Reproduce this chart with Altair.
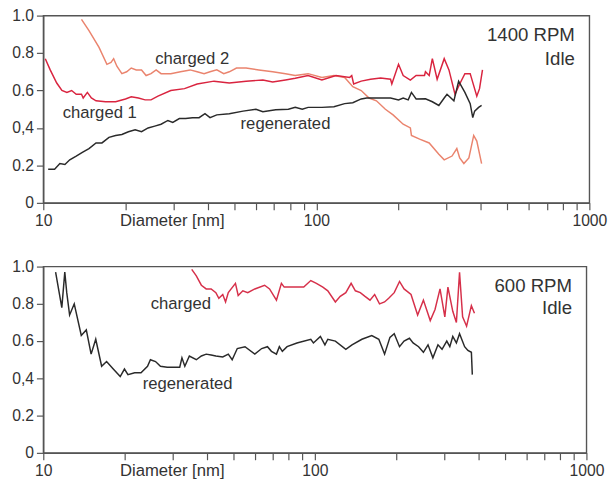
import altair as alt
import pandas as pd

FONT = "Liberation Sans"
TXT = "#333333"

# ---------------- data (diameter in nm, fraction) ----------------
# Top panel: 1400 RPM Idle
top_c2_d = [13.8, 14.7, 16.0, 17.1, 17.7, 18.1, 18.6, 19.4, 20.2, 21.0, 21.9, 22.9, 23.8, 24.8,
            25.9, 27.0, 29.3, 31.8, 34.5, 36.6, 38.8, 40.8, 43.2, 45.8, 48.0, 51, 55.3, 61.6,
            69.2, 77.1, 83.7, 93.3, 104.8, 116, 127, 136, 146, 156, 166, 179, 191, 208, 221,
            223, 239, 259, 281, 294, 314, 327, 335, 347, 362, 377, 387, 403]
top_c2_v = [0.98, 0.92, 0.83, 0.74, 0.75, 0.77, 0.73, 0.69, 0.70, 0.72, 0.71, 0.71, 0.68, 0.69,
            0.71, 0.69, 0.69, 0.70, 0.71, 0.70, 0.69, 0.70, 0.71, 0.69, 0.70, 0.72, 0.72, 0.71,
            0.70, 0.69, 0.68, 0.69, 0.67, 0.68, 0.67, 0.62, 0.60, 0.56, 0.545, 0.50, 0.47, 0.42,
            0.40, 0.36, 0.34, 0.32, 0.26, 0.23, 0.25, 0.29, 0.24, 0.21, 0.24, 0.36, 0.33, 0.21]

top_c1_d = [10.17, 10.6, 11.2, 11.7, 12.2, 12.7, 13.2, 13.8, 14.0, 14.5, 15.0, 15.6, 16.9, 18.4,
            20.0, 21.0, 22.3, 23.6, 24.8, 26.3, 29.3, 32.9, 36.6, 42.2, 48.0, 55.3, 63.7, 69.2,
            77.1, 83.7, 93.3, 104.8, 118, 132.5, 134.8, 137, 146, 158, 172, 187, 189, 200, 208,
            221, 232, 249, 251, 259, 266, 277, 294, 306, 322, 335, 350, 366, 387, 396, 406]
top_c1_v = [0.77, 0.71, 0.64, 0.60, 0.59, 0.60, 0.58, 0.58, 0.56, 0.59, 0.56, 0.545, 0.54, 0.54,
            0.555, 0.566, 0.56, 0.55, 0.55, 0.57, 0.60, 0.61, 0.635, 0.65, 0.64, 0.65, 0.656, 0.645,
            0.656, 0.665, 0.68, 0.656, 0.68, 0.67, 0.68, 0.635, 0.65, 0.66, 0.667, 0.66, 0.635,
            0.74, 0.68, 0.656, 0.68, 0.68, 0.70, 0.68, 0.77, 0.66, 0.77, 0.71, 0.58, 0.635, 0.69,
            0.69, 0.57, 0.61, 0.71]

top_rg_d = [10.42, 11.0, 11.5, 12.0, 12.5, 13.2, 13.9, 14.7, 15.6, 16.4, 17.4, 18.4, 19.4, 20.5,
            21.7, 22.9, 24.2, 25.6, 27.0, 28.6, 29.8, 31.5, 33.2, 35.2, 37.2, 39.1, 40.8, 43.2,
            48.0, 53.9, 60.1, 63.7, 71, 79.0, 83.7, 88.8, 93.3, 104.8, 116, 127, 136, 146, 153,
            172, 187, 200, 208, 217, 223, 232, 251, 266, 281, 294, 301, 319, 332, 350, 366, 374,
            380, 393, 403]
top_rg_v = [0.18, 0.18, 0.21, 0.205, 0.23, 0.25, 0.27, 0.29, 0.32, 0.32, 0.35, 0.36, 0.365, 0.38,
            0.39, 0.38, 0.40, 0.41, 0.42, 0.44, 0.43, 0.45, 0.45, 0.455, 0.455, 0.476, 0.455, 0.47,
            0.476, 0.49, 0.50, 0.487, 0.497, 0.50, 0.51, 0.50, 0.51, 0.51, 0.513, 0.53, 0.535,
            0.555, 0.56, 0.56, 0.56, 0.55, 0.56, 0.55, 0.59, 0.555, 0.556, 0.54, 0.52, 0.56, 0.58,
            0.545, 0.65, 0.59, 0.53, 0.455, 0.49, 0.51, 0.52]

# Bottom panel: 600 RPM Idle
bot_rg_d = [11.1, 11.7, 12.0, 12.2, 12.5, 13.0, 13.8, 14.4, 15.0, 15.6, 16.4, 17.1, 18.1, 19.2,
            19.9, 20.5, 21.7, 22.9, 24.2, 24.8, 25.9, 27.0, 28.6, 30.3, 31.8, 32.4, 33.2, 34.5,
            36.6, 38.2, 39.8, 41.5, 43.2, 45.8, 48.0, 49.6, 51.8, 55.3, 60.1, 63.7, 66.9, 69.2,
            72.2, 74.0, 75.9, 79.0, 85.9, 96.6, 98.8, 104.8, 108.9, 111.6, 119, 130, 137, 149,
            162, 172, 180.6, 189, 196, 205, 213, 223, 230, 241, 251, 261, 272, 284, 294, 306,
            314, 322, 332, 341, 356, 366, 377, 380]
bot_rg_v = [0.97, 0.78, 0.97, 0.86, 0.74, 0.80, 0.63, 0.66, 0.53, 0.61, 0.465, 0.49, 0.45, 0.41,
            0.45, 0.42, 0.43, 0.43, 0.465, 0.50, 0.49, 0.465, 0.46, 0.46, 0.46, 0.51, 0.465, 0.52,
            0.50, 0.52, 0.53, 0.525, 0.52, 0.515, 0.53, 0.50, 0.56, 0.57, 0.53, 0.56, 0.57, 0.545,
            0.53, 0.57, 0.545, 0.57, 0.59, 0.61, 0.59, 0.625, 0.58, 0.61, 0.60, 0.556, 0.58, 0.61,
            0.63, 0.61, 0.53, 0.62, 0.64, 0.57, 0.60, 0.615, 0.59, 0.57, 0.54, 0.58, 0.51, 0.58,
            0.556, 0.60, 0.57, 0.625, 0.59, 0.64, 0.57, 0.55, 0.54, 0.42]

bot_ch_d = [35.2, 36.6, 38.2, 39.8, 41.5, 43.2, 44.3, 45.8, 46.9, 48.0, 51, 52.2, 54.3, 56.6,
            60.1, 65.3, 68.1, 72.2, 75.3, 77.1, 83.7, 91, 96.6, 101.3, 107, 111.6, 119, 124, 130,
            136, 141, 147, 153, 159.6, 166, 173, 180.6, 187, 196, 205, 213, 226, 239, 251, 266,
            277, 289, 301, 309, 322, 332, 341, 350, 362, 377, 387]
bot_ch_v = [0.985, 0.95, 0.90, 0.88, 0.88, 0.86, 0.83, 0.85, 0.81, 0.86, 0.91, 0.845, 0.87, 0.86,
            0.88, 0.90, 0.88, 0.82, 0.91, 0.89, 0.89, 0.89, 0.925, 0.91, 0.89, 0.87, 0.81, 0.84,
            0.86, 0.91, 0.87, 0.86, 0.84, 0.82, 0.85, 0.80, 0.81, 0.83, 0.86, 0.92, 0.88, 0.85,
            0.74, 0.82, 0.71, 0.77, 0.88, 0.73, 0.89, 0.76, 0.70, 0.97, 0.73, 0.68, 0.79, 0.75]

# annotation labels (text, anchor diameter, anchor value)
top_curve_labels = ["charged 2", "charged 1", "regenerated"]
top_curve_label_d = [35.1, 16.1, 77.1]
top_curve_label_v = [0.77, 0.48, 0.42]
top_title_lines = ["1400 RPM", "Idle"]
top_title_d = [885, 885]
top_title_v = [0.895, 0.765]

bot_curve_labels = ["charged", "regenerated"]
bot_curve_label_d = [32.1, 34.0]
bot_curve_label_v = [0.80, 0.37]
bot_title_lines = ["600 RPM", "Idle"]
bot_title_d = [885, 885]
bot_title_v = [0.895, 0.775]

x_ticks = [10, 20, 30, 40, 50, 60, 70, 80, 90, 100, 200, 300, 400, 500, 600, 700, 800, 900, 1000]
y_ticks = [0, 0.2, 0.4, 0.6, 0.8, 1.0]


def series_df(name, d, v):
    assert len(d) == len(v), name
    return pd.DataFrame({"d": d, "v": v, "series": name})


def label_df(texts, d, v):
    assert len(texts) == len(d) == len(v)
    return pd.DataFrame({"label": texts, "d": d, "v": v})


def panel(lines_df, dom, rng, curve_lab, title_lab, w, h):
    xs = alt.Scale(type="log", domain=[10, 1000], nice=False)
    ys = alt.Scale(domain=[0, 1], nice=False)
    x_axis = alt.Axis(
        values=x_ticks, grid=False,
        labelExpr="(datum.value == 10 || datum.value == 100 || datum.value == 1000) ? format(datum.value, 'd') : ''",
        labelOverlap=False, labelFlush=False, labelPadding=3,
        title="Diameter [nm]", titleX=131, titleY=10, titleBaseline="top",
        titleAlign="center", titleFontWeight="normal", titleFontSize=17,
        titleFont=FONT, titleColor=TXT,
    )
    y_axis = alt.Axis(
        values=y_ticks, grid=False, labelOverlap=False,
        labelExpr="datum.value == 0 ? '0' : (abs(datum.value - 0.4) < 0.001 ? '0,4' : format(datum.value, '.1f'))",
        title=None, minExtent=35, labelPadding=3,
    )
    X = alt.X("d:Q", scale=xs, axis=x_axis)
    Y = alt.Y("v:Q", scale=ys, axis=y_axis)
    lines = alt.Chart(lines_df).mark_line(strokeWidth=1.5, clip=True).encode(
        x=X, y=Y,
        color=alt.Color("series:N", scale=alt.Scale(domain=dom, range=rng), legend=None),
    )
    txt1 = alt.Chart(curve_lab).mark_text(font=FONT, fontSize=17, color=TXT, align="center",
                                          baseline="middle").encode(x=X, y=Y, text="label:N")
    txt2 = alt.Chart(title_lab).mark_text(font=FONT, fontSize=19, color=TXT, align="right",
                                          baseline="middle").encode(x=X, y=Y, text="label:N")
    return alt.layer(lines, txt1, txt2).properties(width=w, height=h)


top_lines = pd.concat([
    series_df("charged 2", top_c2_d, top_c2_v),
    series_df("charged 1", top_c1_d, top_c1_v),
    series_df("regenerated", top_rg_d, top_rg_v),
])
bot_lines = pd.concat([
    series_df("charged", bot_ch_d, bot_ch_v),
    series_df("regenerated", bot_rg_d, bot_rg_v),
])

top = panel(top_lines, ["charged 2", "charged 1", "regenerated"], ["#ea846e", "#d9243f", "#2a2a2a"],
            label_df(top_curve_labels, top_curve_label_d, top_curve_label_v),
            label_df(top_title_lines, top_title_d, top_title_v), 557, 191)
bot = panel(bot_lines, ["charged", "regenerated"], ["#d6304a", "#2a2a2a"],
            label_df(bot_curve_labels, bot_curve_label_d, bot_curve_label_v),
            label_df(bot_title_lines, bot_title_d, bot_title_v), 554, 190)

chart = alt.vconcat(top, bot, spacing=29).resolve_scale(color="independent").properties(
    padding={"left": 0, "top": -6, "right": 0, "bottom": 0},
    background="white",
).configure_view(
    stroke="#555555", strokeWidth=1.4
).configure_axis(
    grid=False, domainColor="#555555", domainWidth=1.4, tickColor="#555555", tickWidth=1.2,
    tickSize=7, labelFont=FONT, labelFontSize=16, labelColor=TXT,
)

chart.save("out.html", embed_options={"renderer": "svg", "actions": False})
